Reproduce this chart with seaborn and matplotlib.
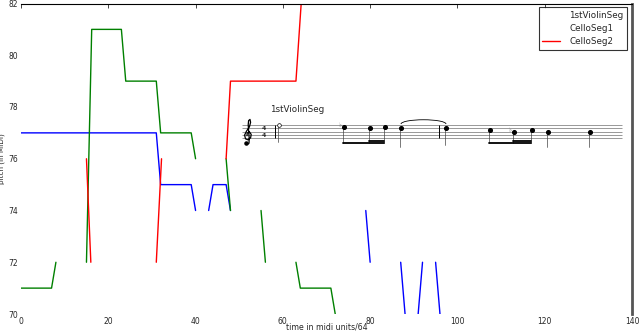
#%% pitch traces of the three segments
import numpy as np
import pandas as pd
import matplotlib
matplotlib.use('Agg')
import matplotlib.pyplot as plt
import seaborn as sns
from matplotlib.patches import Arc

# time in midi units/64 vs pitch (MIDI); seg = piece of the trace between rests
violin_t = [0, 31, 32, 39, 40, 43, 44, 47, 48, 79, 80, 87, 88, 91, 92, 95, 96]
violin_p = [77, 77, 75, 75, 74, 74, 75, 75, 74, 74, 72, 72, 70, 70, 72, 72, 70]
violin_seg = [0, 0, 0, 0, 0, 1, 1, 1, 1, 2, 2, 3, 3, 4, 4, 5, 5]

cello1_t = [0, 7, 8, 15, 16.2, 23, 24, 31, 32, 39, 40, 47, 48, 55, 56, 63, 64, 71, 72]
cello1_p = [71, 71, 72, 72, 81, 81, 79, 79, 77, 77, 76, 76, 74, 74, 72, 72, 71, 71, 70]
cello1_seg = [0, 0, 0, 1, 1, 1, 1, 1, 1, 1, 1, 2, 2, 3, 3, 4, 4, 4, 4]

cello2_t = [15, 16, 31, 32.2, 47, 48, 63, 64.2]
cello2_p = [76, 72, 72, 76, 76, 79, 79, 82]
cello2_seg = [0, 0, 1, 1, 2, 2, 2, 2]

parts = ['1stViolinSeg', 'CelloSeg1', 'CelloSeg2']
colors = ['#0000ff', '#008000', '#ff0000']

# score snippet of 1stViolinSeg (x along staff, staff step from bottom line)
note_x = [39, 104, 130, 145, 161, 206, 250, 274, 292, 308, 350]
note_step = [8, 7, 6, 7, 6, 6, 5, 4, 5, 4, 4]
stem_end = [-2, -2.5, -2.5, -2.5, -5, -4, -2.5, -2.5, -2.5, -5, -5]
flat_x = [100, 270]
flat_step = [7, 4]

df = pd.concat([
    pd.DataFrame({'t': violin_t, 'pitch': violin_p, 'seg': violin_seg, 'part': parts[0]}),
    pd.DataFrame({'t': cello1_t, 'pitch': cello1_p, 'seg': cello1_seg, 'part': parts[1]}),
    pd.DataFrame({'t': cello2_t, 'pitch': cello2_p, 'seg': cello2_seg, 'part': parts[2]}),
], ignore_index=True)
df['unit'] = df['part'] + '_' + df['seg'].astype(str)

#%% plot
sns.set_style('white')
fig = plt.figure(figsize=(6.4, 3.33), dpi=100)
ax = fig.add_axes([21/640, 19/333, 611/640, 310.5/333])

sns.lineplot(data=df, x='t', y='pitch', hue='part', hue_order=parts,
             palette=colors, units='unit', estimator=None, sort=False,
             lw=1, ax=ax)

ax.set_xlim(0, 140)
ax.set_ylim(70, 82)
ax.set_xticks(range(0, 141, 20))
ax.set_yticks(range(70, 83, 2))
ax.tick_params(axis='x', direction='in', length=3, width=0.6, top=True,
               labelsize=5.5, pad=2)
ax.tick_params(axis='y', length=0, labelsize=5.5, pad=2)

ax.spines['left'].set_visible(False)
ax.spines['bottom'].set_visible(False)
ax.spines['top'].set_color('black')
ax.spines['top'].set_linewidth(0.8)
ax.spines['right'].set_color('#555555')
ax.spines['right'].set_linewidth(2)

ax.set_xlabel('time in midi units/64', fontsize=5.6)
ax.xaxis.set_label_coords(0.5, -8/310.5)
ax.set_ylabel('pitch (in MIDI)', fontsize=5.2)
ax.yaxis.set_label_coords(-15.5/611, 0.5)

leg = ax.legend(loc='upper right', bbox_to_anchor=(1 - 5/611, 1 - 3.5/310.5),
                borderaxespad=0, fontsize=6.3, frameon=True, fancybox=False,
                edgecolor='black', handlelength=2, handletextpad=1.1,
                labelspacing=0.5, title=None)
leg.get_frame().set_linewidth(0.8)
# only the CelloSeg2 sample line shows in the original legend
for ln in leg.get_lines()[:2]:
    ln.set_visible(False)

#%% score inset
ins = fig.add_axes([240/640, (333-152)/333, 392/640, 52/333])
ins.set_xlim(0, 392)
ins.set_ylim(-7.94, 22.6)
ins.axis('off')

ins.hlines([0, 2, 4, 6, 8], 2, 382, color='#888888', lw=0.6)
ins.vlines([35, 199], 0, 8, color='black', lw=0.7)
ins.text(30, 16.8, '1stViolinSeg', fontsize=6.3, va='center', ha='left')

# treble clef - no installed font has the glyph, so a rough pen stroke
clef = np.array([(5.5, -2.5), (7, -3.6), (9, -2.8), (9.2, 0), (8.7, 4), (8.2, 8),
                 (8.6, 10.5), (10, 11.2), (10.6, 9.5), (9.4, 6.8), (6.5, 4.3),
                 (4.6, 2), (5.5, -0.2), (8, -0.8), (10.6, 0.4), (11.2, 2.4),
                 (9.4, 3.9), (7.2, 3.2), (7, 1.6)])
ins.plot(clef[:, 0], clef[:, 1], color='black', lw=0.9, solid_capstyle='round')
ins.scatter([5.6], [-2.4], s=5, color='black')
ins.text(24, 6, '4', fontsize=4.5, fontweight='bold', va='center', ha='center')
ins.text(24, 2, '4', fontsize=4.5, fontweight='bold', va='center', ha='center')

for x, s, e in zip(note_x, note_step, stem_end):
    ins.plot([x - 1.3, x - 1.3], [s, e], color='#444444', lw=0.5)
ins.scatter(note_x[1:], note_step[1:], s=7, color='black', zorder=3)
ins.scatter(note_x[:1], note_step[:1], s=7, facecolor='white', edgecolor='black',
            lw=0.5, zorder=3)
for x, s in zip(flat_x, flat_step):
    ins.text(x, s + 0.8, '\u266d', fontsize=4.5, color='#777777', va='center', ha='center')

# beams
ins.plot([note_x[1] - 1.3, note_x[3] - 1.3], [-2.5, -2.5], color='black', lw=1.3)
ins.plot([note_x[2] - 1.3, note_x[3] - 1.3], [-1.5, -1.5], color='black', lw=1.3)
ins.plot([note_x[6] - 1.3, note_x[8] - 1.3], [-2.5, -2.5], color='black', lw=1.3)
ins.plot([note_x[7] - 1.3, note_x[8] - 1.3], [-1.5, -1.5], color='black', lw=1.3)
# tie
ins.add_patch(Arc(((note_x[4] + note_x[5]) / 2, 8.5), note_x[5] - note_x[4], 5,
                  theta1=0, theta2=180, color='black', lw=0.6))

plt.savefig('out.png', dpi=100)
